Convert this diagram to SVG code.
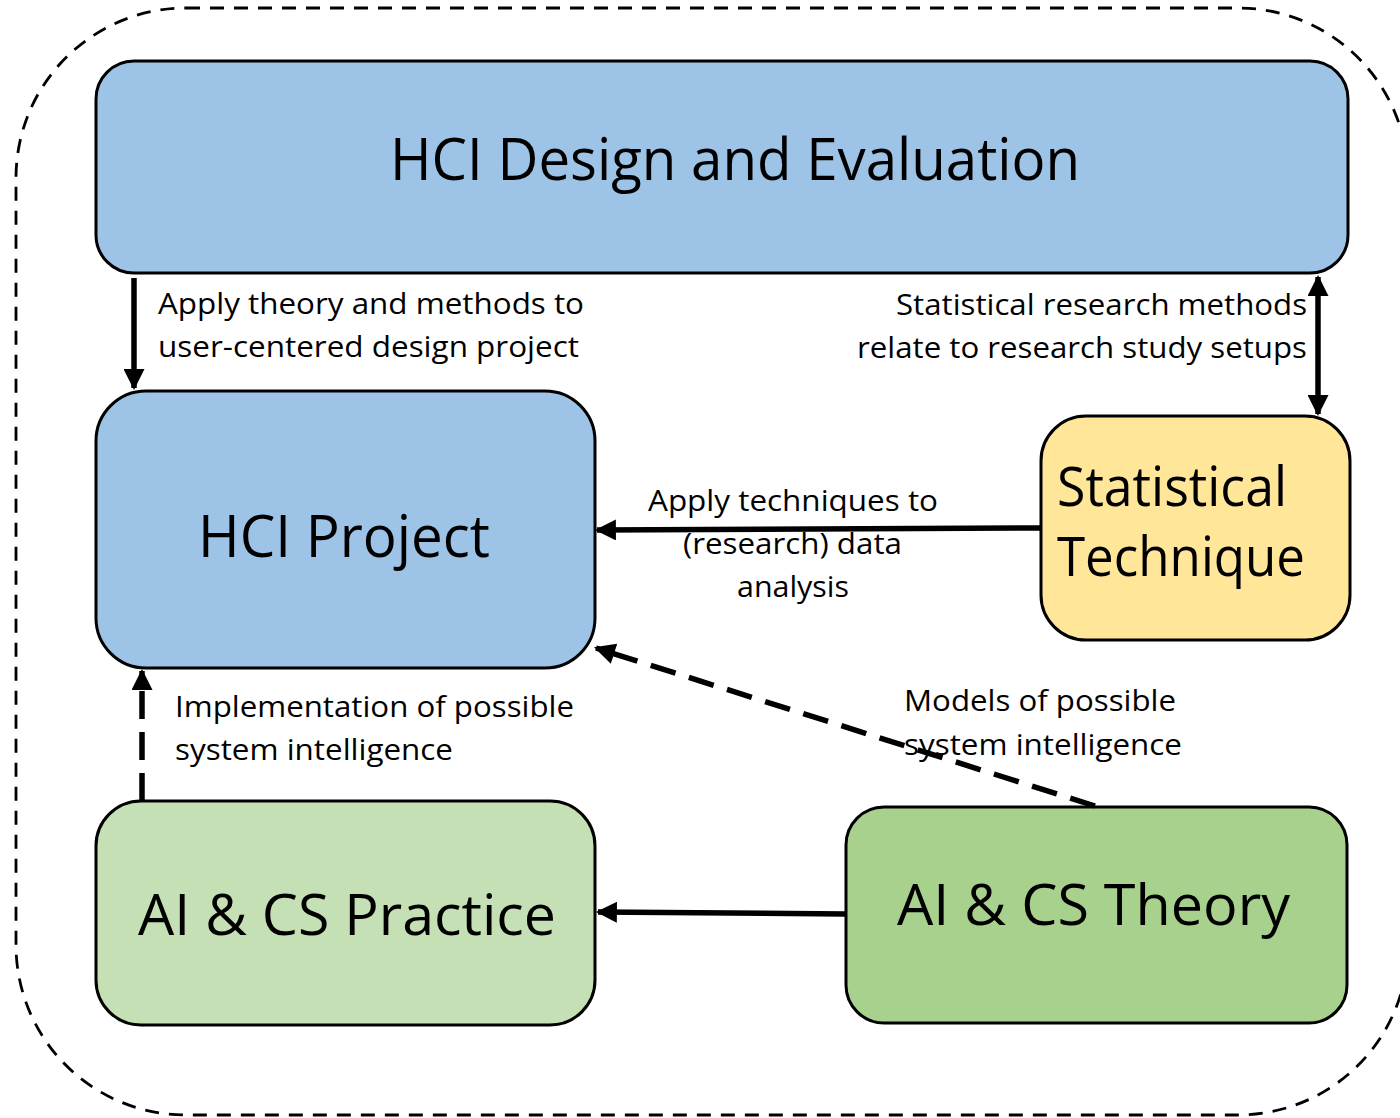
<svg xmlns="http://www.w3.org/2000/svg" width="1400" height="1118" viewBox="0 0 1400 1118">
<style>
.box{stroke:#000;stroke-width:3}
.big{font-family:"Open Sans","Noto Sans",sans-serif;fill:#000}
.lbl{font-family:"Open Sans","Noto Sans",sans-serif;font-size:29px;fill:#000}
.conn{stroke:#000;stroke-width:5.5;fill:none}
</style>
<defs>
<marker id="ah" viewBox="0 0 10 10" refX="9" refY="5" markerWidth="23" markerHeight="21" markerUnits="userSpaceOnUse" orient="auto-start-reverse">
<path d="M0,0 L10,5 L0,10 z" fill="#000"/>
</marker>
</defs>
<rect x="16" y="8" width="1392" height="1107" rx="170" ry="170" fill="none" stroke="#000" stroke-width="2.8" stroke-dasharray="14 10"/>
<g id="hci-design">
<rect class="box" x="96" y="61" width="1252" height="212" rx="38" fill="#9DC3E6"/>
<text class="big" x="390" y="180" font-size="59" textLength="690" lengthAdjust="spacingAndGlyphs">HCI Design and Evaluation</text>
</g>
<g id="hci-project">
<rect class="box" x="96" y="391" width="499" height="277" rx="50" fill="#9DC3E6"/>
<text class="big" x="198" y="557" font-size="58" textLength="292" lengthAdjust="spacingAndGlyphs">HCI Project</text>
</g>
<g id="statistical">
<rect class="box" x="1041" y="416" width="309" height="224" rx="45" fill="#FFE699"/>
<text class="big" x="1057" y="506" font-size="54" textLength="230" lengthAdjust="spacingAndGlyphs">Statistical</text>
<text class="big" x="1057" y="576" font-size="54" textLength="248" lengthAdjust="spacingAndGlyphs">Technique</text>
</g>
<g id="ai-practice">
<rect class="box" x="96" y="801" width="499" height="224" rx="45" fill="#C5E0B4"/>
<text class="big" x="138" y="935" font-size="56" textLength="418" lengthAdjust="spacingAndGlyphs">AI &amp; CS Practice</text>
</g>
<g id="ai-theory">
<rect class="box" x="846" y="807" width="501" height="216" rx="38" fill="#A9D18E"/>
<text class="big" x="897" y="925" font-size="56" textLength="393" lengthAdjust="spacingAndGlyphs">AI &amp; CS Theory</text>
</g>
<g id="connectors">
<line class="conn" x1="134" y1="278" x2="134" y2="388" marker-end="url(#ah)"/>
<line class="conn" x1="1318" y1="277" x2="1318" y2="414" marker-start="url(#ah)" marker-end="url(#ah)"/>
<line class="conn" x1="1041" y1="528" x2="597" y2="530" marker-end="url(#ah)"/>
<line class="conn" x1="1095" y1="806" x2="596" y2="648" stroke-dasharray="26 14" marker-end="url(#ah)"/>
<line class="conn" x1="142" y1="801" x2="142" y2="671" stroke-dasharray="28 13" marker-end="url(#ah)"/>
<line class="conn" x1="846" y1="914" x2="598" y2="912" marker-end="url(#ah)"/>
</g>
<g id="labels">
<text class="lbl" x="158" y="314" textLength="426" lengthAdjust="spacingAndGlyphs">Apply theory and methods to</text>
<text class="lbl" x="158" y="357" textLength="421" lengthAdjust="spacingAndGlyphs">user-centered design project</text>
<text class="lbl" x="896" y="315" textLength="411" lengthAdjust="spacingAndGlyphs">Statistical research methods</text>
<text class="lbl" x="857" y="358" textLength="450" lengthAdjust="spacingAndGlyphs">relate to research study setups</text>
<text class="lbl" x="648" y="511" textLength="290" lengthAdjust="spacingAndGlyphs">Apply techniques to</text>
<text class="lbl" x="683" y="554" textLength="219" lengthAdjust="spacingAndGlyphs">(research) data</text>
<text class="lbl" x="737" y="597" textLength="112" lengthAdjust="spacingAndGlyphs">analysis</text>
<text class="lbl" x="175" y="717" textLength="399" lengthAdjust="spacingAndGlyphs">Implementation of possible</text>
<text class="lbl" x="175" y="760" textLength="278" lengthAdjust="spacingAndGlyphs">system intelligence</text>
<text class="lbl" x="904" y="711" textLength="272" lengthAdjust="spacingAndGlyphs">Models of possible</text>
<text class="lbl" x="904" y="755" textLength="278" lengthAdjust="spacingAndGlyphs">system intelligence</text>
</g>
</svg>
